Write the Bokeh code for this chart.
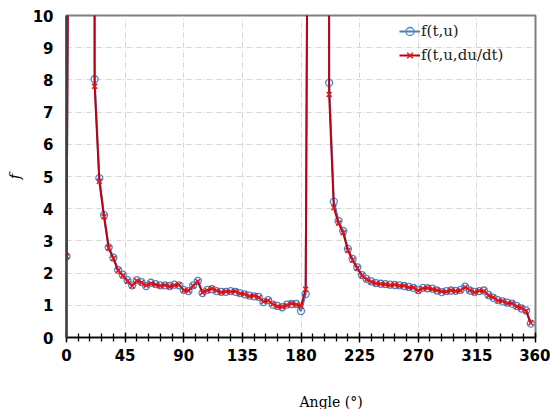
from bokeh.plotting import figure
from bokeh.models import Range1d, FixedTicker, Legend, LegendItem, Title
from bokeh.embed import file_html
from bokeh.resources import INLINE

# ---- data ----
angle = [0.0, 3.6, 7.2, 10.8, 14.4, 18.0, 21.6, 25.2, 28.8, 32.4,
         36.0, 39.6, 43.2, 46.8, 50.4, 54.0, 57.6, 61.2, 64.8, 68.4,
         72.0, 75.6, 79.2, 82.8, 86.4, 90.0, 93.6, 97.2, 100.8, 104.4,
         108.0, 111.6, 115.2, 118.8, 122.4, 126.0, 129.6, 133.2, 136.8, 140.4,
         144.0, 147.6, 151.2, 154.8, 158.4, 162.0, 165.6, 169.2, 172.8, 176.4,
         180.0, 183.6, 187.2, 190.8, 194.4, 198.0, 201.6, 205.2, 208.8, 212.4,
         216.0, 219.6, 223.2, 226.8, 230.4, 234.0, 237.6, 241.2, 244.8, 248.4,
         252.0, 255.6, 259.2, 262.8, 266.4, 270.0, 273.6, 277.2, 280.8, 284.4,
         288.0, 291.6, 295.2, 298.8, 302.4, 306.0, 309.6, 313.2, 316.8, 320.4,
         324.0, 327.6, 331.2, 334.8, 338.4, 342.0, 345.6, 349.2, 352.8, 356.4]

f_tu = [2.52, 30.0, 90.0, 200.0, 350.0, 250.0, 8.02, 4.95, 3.80, 2.80,
        2.48, 2.10, 1.95, 1.78, 1.62, 1.78, 1.72, 1.60, 1.70, 1.66,
        1.62, 1.62, 1.60, 1.64, 1.62, 1.48, 1.44, 1.62, 1.76, 1.38,
        1.48, 1.50, 1.44, 1.42, 1.42, 1.44, 1.42, 1.38, 1.34, 1.30,
        1.28, 1.26, 1.10, 1.16, 1.02, 0.98, 0.94, 1.02, 1.04, 1.04,
        0.82, 1.35, 32.0, 100.0, 300.0, 250.0, 7.91, 4.22, 3.62, 3.31,
        2.75, 2.44, 2.18, 1.94, 1.82, 1.74, 1.69, 1.67, 1.66, 1.64,
        1.63, 1.62, 1.60, 1.57, 1.54, 1.47, 1.54, 1.53, 1.52, 1.46,
        1.41, 1.44, 1.46, 1.45, 1.48, 1.58, 1.46, 1.42, 1.44, 1.46,
        1.32, 1.23, 1.16, 1.12, 1.08, 1.05, 0.98, 0.90, 0.84, 0.43]

f_tudu = [2.52, 30.0, 90.0, 200.0, 350.0, 250.0, 7.80, 4.85, 3.75, 2.78,
          2.45, 2.08, 1.92, 1.75, 1.60, 1.76, 1.70, 1.62, 1.68, 1.64,
          1.60, 1.63, 1.58, 1.62, 1.64, 1.46, 1.45, 1.60, 1.74, 1.40,
          1.46, 1.52, 1.45, 1.40, 1.43, 1.42, 1.44, 1.36, 1.35, 1.28,
          1.30, 1.24, 1.12, 1.14, 1.04, 0.96, 0.95, 1.00, 1.06, 1.02,
          0.98, 1.50, 32.0, 100.0, 300.0, 250.0, 7.55, 4.03, 3.55, 3.25,
          2.70, 2.40, 2.15, 1.92, 1.80, 1.72, 1.68, 1.66, 1.65, 1.62,
          1.64, 1.60, 1.61, 1.55, 1.55, 1.45, 1.52, 1.54, 1.50, 1.47,
          1.43, 1.42, 1.47, 1.44, 1.46, 1.56, 1.47, 1.40, 1.45, 1.44,
          1.30, 1.24, 1.14, 1.13, 1.06, 1.06, 0.96, 0.92, 0.82, 0.45]

x_ticks = [0, 45, 90, 135, 180, 225, 270, 315, 360]
y_ticks = [0, 1, 2, 3, 4, 5, 6, 7, 8, 9, 10]

BLUE_LINE = "#4a7ebb"
BLUE_MARK = "#4a86c8"
RED_LINE = "#c00010"
RED_MARK = "#e01a1a"

p = figure(width=550, height=409, output_backend="svg", toolbar_location=None,
           x_range=Range1d(0, 360), y_range=Range1d(0, 10),
           min_border_left=66, min_border_right=15, min_border_top=15,
           min_border_bottom=0)
p.background_fill_color = "white"
p.border_fill_color = "white"
p.outline_line_color = "#7f7f7f"
p.outline_line_width = 2

# grid
for g in (p.xgrid, p.ygrid):
    g.grid_line_color = "#d4d4d4"
    g.grid_line_dash = "5 2 1 2"
    g.grid_line_width = 1
p.xgrid.ticker = FixedTicker(ticks=x_ticks)
p.ygrid.ticker = FixedTicker(ticks=y_ticks)

# x axis
xa = p.xaxis[0]
xa.ticker = FixedTicker(ticks=x_ticks, minor_ticks=list(range(0, 361, 9)))
xa.axis_line_color = "black"
xa.axis_line_width = 1.5
xa.major_tick_in = 5
xa.major_tick_out = 5
xa.minor_tick_in = 4
xa.minor_tick_out = 4
xa.major_tick_line_color = "black"
xa.minor_tick_line_color = "black"
xa.major_tick_line_width = 1.3
xa.minor_tick_line_width = 1.3
xa.major_label_text_font = "DejaVu Sans"
xa.major_label_text_font_style = "bold"
xa.major_label_text_font_size = "15px"
xa.major_label_text_color = "black"
xa.major_label_standoff = 6

# y axis
ya = p.yaxis[0]
ya.ticker = FixedTicker(ticks=y_ticks)
ya.axis_line_color = "#404040"
ya.axis_line_width = 2.5
ya.major_tick_line_color = None
ya.minor_tick_line_color = None
ya.major_tick_out = 0
ya.major_tick_in = 0
ya.major_label_text_font = "DejaVu Sans"
ya.major_label_text_font_style = "bold"
ya.major_label_text_font_size = "15px"
ya.major_label_text_color = "black"
ya.major_label_standoff = 13
ya.axis_label = "f"
ya.axis_label_text_font = "DejaVu Serif"
ya.axis_label_text_font_style = "italic"
ya.axis_label_text_font_size = "15px"
ya.axis_label_text_color = "black"
ya.axis_label_standoff = 6

# series
l1 = p.line(angle, f_tu, line_color=BLUE_LINE, line_width=2)
m1 = p.scatter(angle, f_tu, marker="circle", size=7, fill_color=None,
               line_color=BLUE_MARK, line_width=1.3)
l2 = p.line(angle, f_tudu, line_color=RED_LINE, line_width=2)
m2 = p.scatter(angle, f_tudu, marker="x", size=7, line_color=RED_MARK,
               line_width=1.5)

legend = Legend(items=[LegendItem(label="f(t,u)", renderers=[l1, m1]),
                       LegendItem(label="f(t,u,du/dt)", renderers=[l2, m2])],
                location=(333, 272))
legend.border_line_color = None
legend.background_fill_alpha = 0
legend.padding = 0
legend.margin = 0
legend.spacing = 4
legend.glyph_width = 21
legend.glyph_height = 20
legend.label_height = 20
legend.label_standoff = 1
legend.label_text_font = "DejaVu Serif"
legend.label_text_font_size = "15px"
legend.label_text_color = "#222222"
p.add_layout(legend, "center")

spacer = Title(text=" ", standoff=10, text_font_size="14px")
p.add_layout(spacer, "below")
xtitle = Title(text="Angle (°)", align="left", offset=233,
               text_font="DejaVu Serif", text_font_size="14px",
               text_font_style="normal", text_color="black",
               standoff=0)
p.add_layout(xtitle, "below")

open("out.html", "w").write(file_html(p, INLINE))
